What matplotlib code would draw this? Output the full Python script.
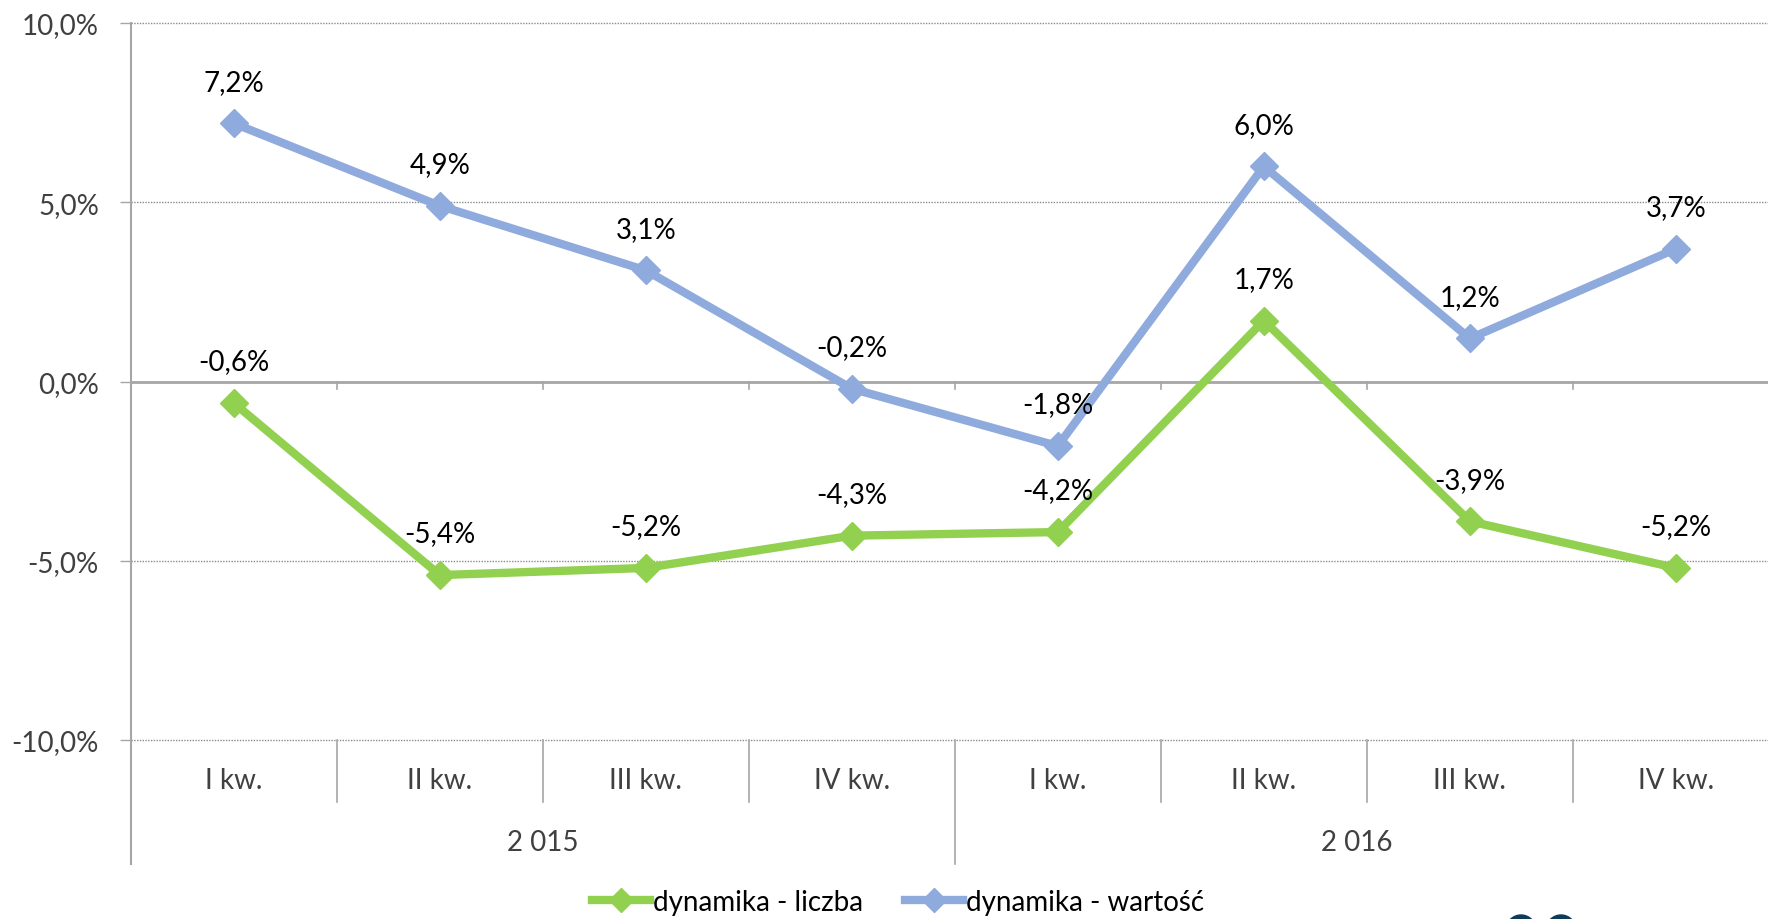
import matplotlib
matplotlib.use("Agg")
import matplotlib.pyplot as plt
from matplotlib.lines import Line2D
from matplotlib.patches import Ellipse

plt.rcParams['font.family'] = ['Lato', 'DejaVu Sans']

quarters = ["I kw.", "II kw.", "III kw.", "IV kw.", "I kw.", "II kw.", "III kw.", "IV kw."]
years = ["2 015", "2 016"]
liczba = [-0.6, -5.4, -5.2, -4.3, -4.2, 1.7, -3.9, -5.2]
wartosc = [7.2, 4.9, 3.1, -0.2, -1.8, 6.0, 1.2, 3.7]
yticks = [10, 5, 0, -5, -10]

green = "#92D050"
blue = "#8FAADC"
grey = "#A6A6A6"
txt = "#404040"

W, H = 1768, 920
fig = plt.figure(figsize=(W / 100, H / 100), dpi=100)

# plot area in pixels (image is cropped on the right)
left_px, top_px, bot_px = 130.8, 24, 741
cat_px = 206
ax = fig.add_axes([left_px / W, 1 - bot_px / H, (W - left_px) / W, (bot_px - top_px) / H])
ax.set_xlim(-0.5, -0.5 + (W - left_px) / cat_px)
ax.set_ylim(-10, 10)

for s in ["top", "right", "bottom", "left"]:
    ax.spines[s].set_visible(False)

# gridlines
for v in yticks:
    if v == 0:
        ax.axhline(v, color=grey, lw=2, zorder=1)
    else:
        ax.axhline(v, color="#8C8C8C", lw=1, ls=(0, (1, 1)), zorder=1, clip_on=False)

ax.set_yticks(yticks)
ax.set_yticklabels([f"{v:.1f}%".replace(".", ",") for v in yticks], color=txt, fontsize=20)
ax.tick_params(axis="y", length=8, width=1, color=grey, pad=15)
ax.set_xticks([])

# left axis line extending below plot
sep_q = -(803 - bot_px) / (bot_px - top_px)
sep_y = -(865 - bot_px) / (bot_px - top_px)
ax.plot([-0.5, -0.5], [sep_y, 1], transform=ax.get_xaxis_transform(), color=grey, lw=1.5, clip_on=False)

n = len(quarters)
for b in range(1, n + 1):
    x = b - 0.5
    bottom = sep_y if b % 4 == 0 else sep_q
    ax.plot([x, x], [bottom, 0], transform=ax.get_xaxis_transform(), color=grey, lw=1.2, clip_on=False)
    ax.plot([x, x], [0, -0.22], color=grey, lw=1.2, clip_on=False)

for i, q in enumerate(quarters):
    ax.text(i, -(781 - bot_px) / (bot_px - top_px), q, transform=ax.get_xaxis_transform(),
            ha="center", va="center", fontsize=20, color=txt)
ax.text(1.5, -(843 - bot_px) / (bot_px - top_px), years[0], transform=ax.get_xaxis_transform(),
        ha="center", va="center", fontsize=20, color=txt)
ax.text(5.45, -(843 - bot_px) / (bot_px - top_px), years[1], transform=ax.get_xaxis_transform(),
        ha="center", va="center", fontsize=20, color=txt)

xs = list(range(n))
ax.plot(xs, liczba, color=green, lw=6, marker="D", ms=14, zorder=3, clip_on=False)
ax.plot(xs, wartosc, color=blue, lw=6, marker="D", ms=14, zorder=3, clip_on=False)

for series in (liczba, wartosc):
    for x, v in zip(xs, series):
        ax.annotate(f"{v:.1f}%".replace(".", ","), (x, v), xytext=(0, 30), textcoords="offset points",
                    ha="center", va="center", fontsize=20, color="black", zorder=4)

handles = [Line2D([], [], color=green, lw=6, marker="D", ms=12),
           Line2D([], [], color=blue, lw=6, marker="D", ms=12)]
fig.legend(handles, ["dynamika - liczba", "dynamika - wartość"], loc="center",
           bbox_to_anchor=(0.508, 1 - 903 / H), ncol=2, frameon=False, fontsize=20,
           handlelength=2.1, handletextpad=0.1, columnspacing=1.5, labelcolor="black")

# partial logo at the bottom right corner
for cx in (1521, 1561):
    fig.add_artist(Ellipse((cx / W, 1 - 931 / H), 30 / W, 30 / H, transform=fig.transFigure,
                           color="#0E3B5A", clip_on=False))

fig.savefig("out.png", dpi=100)
